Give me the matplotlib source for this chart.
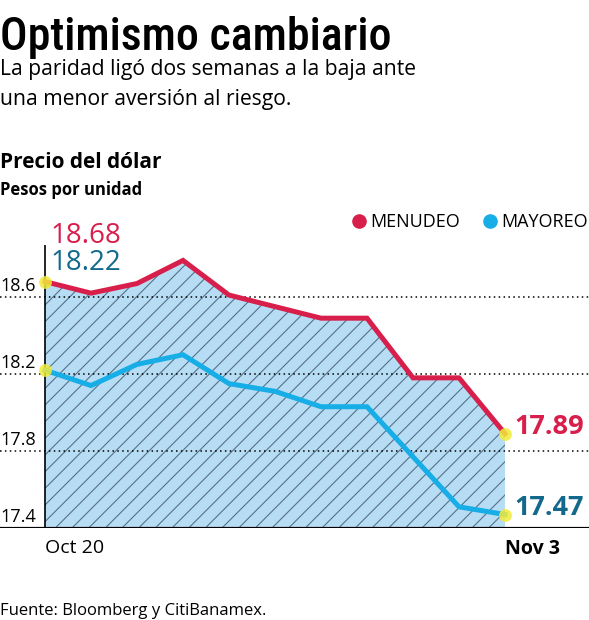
import matplotlib
matplotlib.use("Agg")
import matplotlib.pyplot as plt
from matplotlib import font_manager
from matplotlib.lines import Line2D

# Datos: tipo de cambio peso/dólar, 20 oct - 3 nov
dias = ["Oct 20", "", "", "", "", "", "", "", "", "", "Nov 3"]
menudeo = [18.68, 18.62, 18.67, 18.79, 18.61, 18.55, 18.49, 18.49, 18.18, 18.18, 17.89]
mayoreo = [18.22, 18.14, 18.25, 18.30, 18.15, 18.11, 18.03, 18.03, 17.77, 17.51, 17.47]
niveles = [18.6, 18.2, 17.8, 17.4]

ROJO = "#d81f4c"
AZUL = "#17ade6"
AZUL_OSC = "#12698c"
RELLENO = "#b6ddf4"
AMARILLO = "#f1ea3a"
RAYAS = "#56718a"

names = {f.name for f in font_manager.fontManager.ttflist}


def pick(cands):
    for c in cands:
        if c in names:
            return c
    return "DejaVu Sans"


TITULO = pick(["Roboto Condensed", "Liberation Sans Narrow", "Open Sans Condensed", "DejaVu Sans"])
TEXTO = pick(["Open Sans", "Lato", "DejaVu Sans"])

fig = plt.figure(figsize=(5.89, 6.2), dpi=100)
ax = fig.add_axes([0, 92 / 620, 1, 283 / 620])
x = list(range(len(menudeo)))

ax.set_xlim(-45 / 46, 544 / 46)
ax.set_ylim(17.4, 17.4 + 283 / 192.5)

# area rayada bajo la linea de menudeo
plt.rcParams["hatch.color"] = RAYAS
plt.rcParams["hatch.linewidth"] = 0.8
ax.fill_between(x, menudeo, 17.4, facecolor=RELLENO, edgecolor=RAYAS,
                hatch="//", linewidth=0, zorder=1)

for v in niveles:
    if v != niveles[-1]:
        ax.axhline(v, color="black", ls=(0, (1, 2.2)), lw=1.1, zorder=2)
    ax.text(0.0, v + 0.03, f"{v:.1f}", transform=ax.get_yaxis_transform(),
            ha="left", va="baseline", fontsize=13, family=TEXTO)
ax.axhline(17.4, color="black", lw=2.3, zorder=4)
ax.axvline(0, color="black", lw=1.2, zorder=4)

ax.plot(x, menudeo, color=ROJO, lw=3.6, solid_joinstyle="miter", zorder=5)
ax.plot(x, mayoreo, color=AZUL, lw=3.6, solid_joinstyle="miter", zorder=5)

ends = [0, len(x) - 1]
ax.scatter([x[i] for i in ends] * 2, [menudeo[i] for i in ends] + [mayoreo[i] for i in ends],
           s=85, color=AMARILLO, alpha=0.85, linewidths=0, zorder=6)

ax.annotate(f"{menudeo[0]:.2f}", (x[0], menudeo[0]), xytext=(4, 28), textcoords="offset points",
            color=ROJO, fontsize=20, family=TEXTO, va="baseline", ha="left")
ax.annotate(f"{mayoreo[0]:.2f}", (x[0], menudeo[0]), xytext=(4, 8), textcoords="offset points",
            color=AZUL_OSC, fontsize=20, family=TEXTO, va="baseline", ha="left")
ax.annotate(f"{menudeo[-1]:.2f}", (x[-1], menudeo[-1]), xytext=(7, 0), textcoords="offset points",
            color=ROJO, fontsize=19.5, fontweight="bold", family=TEXTO, va="baseline", ha="left")
ax.annotate(f"{mayoreo[-1]:.2f}", (x[-1], mayoreo[-1]), xytext=(7, 0), textcoords="offset points",
            color=AZUL_OSC, fontsize=19.5, fontweight="bold", family=TEXTO, va="baseline", ha="left")

ax.set_xticks([0, len(x) - 1])
ax.set_xticklabels([dias[0], dias[-1]], family=TEXTO, fontsize=14)
for lab in ax.get_xticklabels():
    lab.set_horizontalalignment("left")
ax.get_xticklabels()[1].set_fontweight("bold")
ax.tick_params(axis="x", length=0, pad=8)
ax.set_yticks([])
for s in ax.spines.values():
    s.set_visible(False)

handles = [Line2D([], [], ls="none", marker="o", ms=9.5, color=ROJO),
           Line2D([], [], ls="none", marker="o", ms=9.5, color=AZUL)]
ax.legend(handles, ["MENUDEO", "MAYOREO"], ncol=2, frameon=False, loc="center right",
          bbox_to_anchor=(1.01, (528 - 222) / 283), handletextpad=0.1, columnspacing=1.2,
          prop={"family": TEXTO, "size": 13}, handlelength=1.0, borderaxespad=0)

fig.text(0.0, 1 - 50 / 620, "Optimismo cambiario", family=TITULO, fontsize=33,
         fontweight="medium", fontstretch="condensed", va="baseline", ha="left")
fig.text(0.0, 1 - 75 / 620, "La paridad ligó dos semanas a la baja ante", family=TEXTO,
         fontsize=15.2, va="baseline", ha="left")
fig.text(0.0, 1 - 105 / 620, "una menor aversión al riesgo.", family=TEXTO,
         fontsize=15.2, va="baseline", ha="left")
fig.text(0.0, 1 - 168 / 620, "Precio del dólar", family=TEXTO, fontsize=15,
         fontweight="bold", va="baseline", ha="left")
fig.text(0.0, 1 - 195 / 620, "Pesos por unidad", family=TEXTO, fontsize=12,
         fontweight="bold", va="baseline", ha="left")
fig.text(0.0, 1 - 615 / 620, "Fuente: Bloomberg y CitiBanamex.", family=TEXTO,
         fontsize=12, va="baseline", ha="left")

fig.savefig("out.png", dpi=100)
